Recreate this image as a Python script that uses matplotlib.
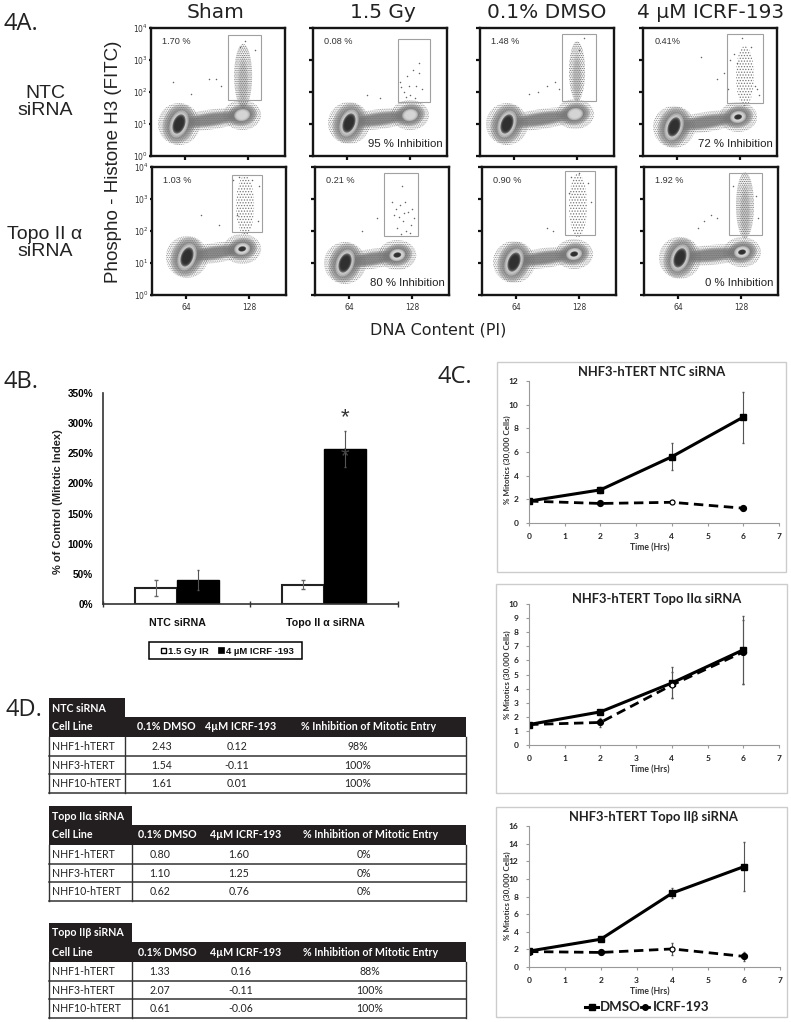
import numpy as np
import matplotlib
matplotlib.use('Agg')
import matplotlib.pyplot as plt
from matplotlib.patches import Polygon, Rectangle

W, H = 791, 1022
plt.rcParams['hatch.linewidth'] = 0.6

# ---- 4A flow panels (x = DNA content, y = log10 signal)
col_titles = ['Sham', '1.5 Gy', '0.1% DMSO', '4 µM ICRF-193']
row_titles = ['NTC\nsiRNA', 'Topo II α\nsiRNA']
flow_pct = [['1.70 %', '0.08 %', '1.48 %', '0.41%'],
            ['1.03 %', '0.21 %', '0.90 %', '1.92 %']]
flow_inhib = [['', '95 % Inhibition', '', '72 % Inhibition'],
              ['', '80 % Inhibition', '', '0 % Inhibition']]
flow_ticks_x = [64, 128]
flow_ticks_y = [0, 1, 2, 3, 4]
flow_gates = [[(107.6, 141.2, 1.75, 3.78), (115.8, 148.3, 1.69, 3.66),
               (112.7, 147.2, 1.72, 3.81), (114.8, 151.3, 1.66, 3.81)],
              [(110.7, 141.2, 1.97, 3.75), (99.5, 134.0, 1.84, 3.81),
               (113.7, 144.2, 1.88, 3.88), (115.8, 149.3, 1.88, 3.81)]]
g1_peaks = [[(57.9, 1.00), (66.0, 1.03), (56.9, 1.00), (61.0, 0.91)],
            [(65.0, 1.19), (60.0, 1.00), (62.0, 1.03), (66.0, 1.16)]]
g2_peaks = [[(122.0, 1.28), (128.0, 1.28), (126.0, 1.31), (126.0, 1.22)],
            [(121.0, 1.44), (113.0, 1.25), (123.0, 1.28), (129.0, 1.34)]]
tails = [[(123, 2.50, 9, 32), None, (128, 2.65, 8, 30), (133, 2.50, 9, 30)],
         [(124, 2.80, 9, 30), None, (127, 2.80, 9, 32), (132, 2.80, 9, 33)]]
tail_dense = [[True, False, True, False], [False, False, False, True]]
stray_dots = [
    [[(52, 2.3), (95, 2.4), (88, 2.4), (70, 1.95), (101, 2.2), (125, 3.6), (120, 3.4), (135, 3.3)],
     [(118, 2.3), (125, 2.5), (131, 2.7), (137, 2.9), (122, 2.0), (128, 1.9), (134, 2.2), (140, 2.1),
      (124, 1.85), (133, 1.8), (98, 1.8), (84, 1.9), (137, 2.6), (119, 2.15), (127, 2.2)],
     [(98, 2.2), (106, 2.3), (110, 2.1), (79, 1.95), (88, 2.0), (135, 3.7), (130, 3.3)],
     [(88, 3.1), (112, 2.6), (116, 2.1), (105, 2.4), (130, 3.7), (122, 3.2), (143, 2.2), (145, 2.1),
      (118, 3.0), (125, 2.9), (139, 3.4), (147, 1.9)]],
    [[(79, 2.5), (98, 2.2), (112, 3.6), (118, 3.7), (131, 3.6), (138, 3.4), (116, 2.5), (137, 2.3)],
     [(118, 3.4), (112, 2.7), (116, 2.8), (121, 2.9), (124, 2.6), (110, 2.5), (119, 2.3), (127, 2.2),
      (113, 2.1), (122, 2.0), (130, 2.4), (117, 1.9), (126, 1.95), (92, 2.4), (77, 2.0), (108, 2.9),
      (115, 2.45), (128, 2.7), (120, 2.55)],
     [(95, 2.1), (102, 2.0), (120, 3.7), (128, 3.8), (137, 3.5), (118, 3.2), (140, 2.9)],
     [(90, 2.3), (97, 2.5), (104, 2.4), (84, 2.1), (120, 3.4), (143, 3.1), (145, 2.4)]]]

# ---- 4B bars
bar_groups = ['NTC siRNA', 'Topo II α siRNA']
ir_vals = [26, 32]
ir_err = [13, 7]
icrf_vals = [40, 257]
icrf_err = [17, 30]
bar_ticks = [0, 50, 100, 150, 200, 250, 300, 350]

# ---- 4C time courses
times = [0, 2, 4, 6]
line_titles = ['NHF3-hTERT NTC siRNA', 'NHF3-hTERT Topo IIα siRNA', 'NHF3-hTERT Topo IIβ siRNA']
dmso_1 = [1.85, 2.8, 5.6, 8.95]
dmso_1_err = [0.1, 0.25, 1.15, 2.15]
icrf_1 = [1.85, 1.65, 1.75, 1.25]
icrf_1_err = [0.1, 0.1, 0.1, 0.1]
dmso_2 = [1.45, 2.35, 4.4, 6.75]
dmso_2_err = [0.1, 0.15, 1.1, 2.4]
icrf_2 = [1.45, 1.6, 4.25, 6.6]
icrf_2_err = [0.1, 0.3, 0.9, 2.3]
dmso_3 = [1.8, 3.15, 8.4, 11.4]
dmso_3_err = [0.1, 0.2, 0.55, 2.8]
icrf_3 = [1.75, 1.65, 2.05, 1.2]
icrf_3_err = [0.1, 0.1, 0.7, 0.5]

# ---- 4D tables
table_head = ['Cell Line', '0.1% DMSO', '4µM ICRF-193', '% Inhibition of Mitotic Entry']
cell_lines = ['NHF1-hTERT', 'NHF3-hTERT', 'NHF10-hTERT']
table_names = ['NTC siRNA', 'Topo IIα siRNA', 'Topo IIβ siRNA']
table_dmso = [['2.43', '1.54', '1.61'], ['0.80', '1.10', '0.62'], ['1.33', '2.07', '0.61']]
table_icrf = [['0.12', '-0.11', '0.01'], ['1.60', '1.25', '0.76'], ['0.16', '-0.11', '-0.06']]
table_inhib = [['98%', '100%', '100%'], ['0%', '0%', '0%'], ['88%', '100%', '100%']]


def axes_px(x0, y0, x1, y1):
    return fig.add_axes([x0 / W, 1 - y1 / H, (x1 - x0) / W, (y1 - y0) / H])


def blob(ax, centre, rx, ry, angle, **kw):
    # ellipse given in pixels, turned into data units of the flow panel
    t = np.linspace(0, 2 * np.pi, 60)
    a = np.radians(angle)
    px = rx * np.cos(t) * np.cos(a) - ry * np.sin(t) * np.sin(a)
    py = rx * np.cos(t) * np.sin(a) + ry * np.sin(t) * np.cos(a)
    pts = np.column_stack([centre[0] + px * 1.015, centre[1] + py / 32])
    ax.add_patch(Polygon(pts, closed=True, lw=0, **kw))


def soft(ax, centre, rx, ry, angle, color, alpha=0.4):
    # a few shrinking copies so the edge fades
    for f in [1.0, 0.88, 0.76, 0.64]:
        blob(ax, centre, rx * f, ry * f, angle, facecolor=color, alpha=alpha)


def draw_flow(ax, r, c):
    g1, g2 = g1_peaks[r][c], g2_peaks[r][c]
    mid = ((g1[0] + g2[0]) / 2, (g1[1] + g2[1]) / 2)
    ang = np.degrees(np.arctan2((g2[1] - g1[1]) * 32, (g2[0] - g1[0]) / 1.015))
    half = np.hypot((g2[0] - g1[0]) / 1.015, (g2[1] - g1[1]) * 32) / 2

    # stippled outer cloud
    stip = dict(facecolor='none', edgecolor='#8c8c8c', hatch='.........')
    blob(ax, g1, 21, 21, 0, **stip)
    blob(ax, g2, 19, 15, 0, **stip)
    blob(ax, mid, half + 10, 10, ang, **stip)
    if tails[r][c] is not None:
        cx, cy, rx, ry = tails[r][c]
        if tail_dense[r][c]:
            blob(ax, (cx, cy), rx, ry, 0, facecolor='none', edgecolor='#666666', hatch='.........')
            soft(ax, (cx, cy - 0.2), rx * 0.6, ry * 0.85, 0, '#888888', alpha=0.12)
        else:
            blob(ax, (cx, cy), rx, ry, 0, facecolor='none', edgecolor='#777777', hatch='......')

    # denser body
    soft(ax, mid, half + 2, 7, ang, '#707070', alpha=0.32)
    soft(ax, g1, 16, 20, -20, '#777777', alpha=0.38)
    soft(ax, g2, 15, 11, 10, '#777777', alpha=0.38)
    soft(ax, g1, 9, 14, -20, '#dcdcdc', alpha=0.45)
    soft(ax, g2, 8, 6, 10, '#dedede', alpha=0.45)
    soft(ax, g1, 6, 10, -20, '#2c2c2c', alpha=0.6)
    if r == 1 or c == 3:
        soft(ax, g2, 4, 2.6, 10, '#2c2c2c', alpha=0.6)

    x0, x1, y0, y1 = flow_gates[r][c]
    ax.add_patch(Rectangle((x0, y0), x1 - x0, y1 - y0, fill=False, ec='#a0a0a0', lw=0.8, zorder=3))
    ax.scatter(*zip(*stray_dots[r][c]), s=1.2, color='#666666', lw=0, zorder=2)


def draw_lines(ax, dmso, dmso_err, icrf, icrf_err, ymax, ystep):
    ax.errorbar(times, dmso, yerr=dmso_err, color='#555555', lw=0, elinewidth=0.8, capsize=1)
    ax.errorbar(times, icrf, yerr=icrf_err, color='#555555', lw=0, elinewidth=0.8, capsize=1)
    ax.plot(times, dmso, '-', color='black', lw=2.2, marker='s', ms=4.5)
    ax.plot(times, icrf, color='black', lw=2.0, ls=(0, (3.4, 2)), marker='o', ms=4.2,
            markevery=[0, 1, 3])
    ax.plot(times, icrf, lw=0, marker='o', ms=3.6, mfc='white', mec='black', mew=0.9, markevery=[2])
    ax.set_xlim(0, 7)
    ax.set_ylim(0, ymax)
    ax.set_xticks(range(8))
    ax.set_yticks(range(0, ymax + 1, ystep))
    for s in ['top', 'right']:
        ax.spines[s].set_visible(False)
    for s in ['left', 'bottom']:
        ax.spines[s].set_color('#999999')
    ax.tick_params(colors='#999999', labelcolor='#222222', labelsize=6, length=2.5, width=0.8, pad=5)
    for lab in ax.get_xticklabels() + ax.get_yticklabels():
        lab.set_fontweight('bold')
        lab.set_family(['Lato', 'DejaVu Sans'])
    ax.patch.set_alpha(0)


fig = plt.figure(figsize=(W / 100, H / 100), dpi=100)
bg = fig.add_axes([0, 0, 1, 1])
bg.set_xlim(0, W)
bg.set_ylim(H, 0)
bg.axis('off')

# panel letters
for txt, x, y in [('4A.', 3, 24), ('4B.', 3, 382), ('4C.', 437, 377), ('4D.', 6, 710)]:
    bg.text(x, y, txt, fontsize=17, family='Open Sans', va='center', color='#222222')

# ---- 4A
lefts = [[151, 313, 480, 643], [152, 315, 482, 644]]
tops = [28, 167]
for r in range(2):
    for c in range(4):
        x0 = lefts[r][c]
        ax = axes_px(x0, tops[r], x0 + 134, tops[r] + 128)
        ax.set_xlim(29.5, 165.5)
        ax.set_ylim(0, 4)
        draw_flow(ax, r, c)
        ax.set_xticks(flow_ticks_x)
        ax.set_yticks(flow_ticks_y)
        ax.tick_params(length=3, width=1.6, pad=3, labelsize=5.5, color='#111111', labelcolor='#333333')
        if r == 0:
            ax.set_xticklabels([])
        if c == 0:
            ax.set_yticklabels(['$\\mathregular{10^{%d}}$' % v for v in flow_ticks_y])
            ax.tick_params(axis='y', length=1.5, labelsize=5.5, pad=1)
        else:
            ax.set_yticklabels([])
        for s in ax.spines.values():
            s.set_linewidth(1.7)
            s.set_color('#151515')
        ax.text(0.085, 0.895, flow_pct[r][c], transform=ax.transAxes, fontsize=6.6,
                family='Liberation Sans', color='#333333', va='center')
        if flow_inhib[r][c]:
            ax.text(0.965, 0.09, flow_inhib[r][c], transform=ax.transAxes, fontsize=8.2, ha='right',
                    family='Liberation Sans', color='#222222', va='center')

for txt, x in zip(col_titles, [216, 383, 547, 711]):
    bg.text(x, 13, txt, ha='center', va='center', fontsize=14.5, color='#222222')
for txt, y in zip(row_titles, [102, 243]):
    bg.text(45, y, txt, ha='center', va='center', fontsize=14, color='#222222',
            family='Liberation Sans', linespacing=1.05)
bg.text(114, 162, 'Phospho - Histone H3 (FITC)', rotation=90, ha='center', va='center',
        fontsize=13.5, family='Liberation Sans', color='#222222')
bg.text(438, 330, 'DNA Content (PI)', ha='center', va='center', fontsize=11.5, color='#222222')

# ---- 4B
ax = axes_px(103, 393, 398, 604)
ax.set_xlim(0, 2)
ax.set_ylim(0, 350)
xpos = np.array([0.5, 1.5])
bw = 0.285
ax.bar(xpos - bw / 2, ir_vals, bw, color='white', edgecolor='#222222', lw=1.5,
       yerr=ir_err, error_kw=dict(ecolor='#666666', elinewidth=0.8, capsize=1.5))
ax.bar(xpos + bw / 2, icrf_vals, bw, color='black', edgecolor='black', lw=1,
       yerr=icrf_err, error_kw=dict(ecolor='#555555', elinewidth=0.8, capsize=1))
ax.set_xticks([0, 1, 2])
ax.set_xticklabels([])
ax.set_yticks(bar_ticks)
ax.set_yticklabels(['%d%%' % v for v in bar_ticks], fontsize=7.2, fontweight='bold',
                   family='Liberation Sans')
ax.tick_params(axis='y', length=0, pad=7)
ax.tick_params(axis='x', direction='inout', length=5, width=1, color='#333333')
for s in ['top', 'right']:
    ax.spines[s].set_visible(False)
for s in ['left', 'bottom']:
    ax.spines[s].set_linewidth(1.2)
    ax.spines[s].set_color('#333333')
ax.patch.set_alpha(0)
for txt, x in zip(bar_groups, [177, 325]):
    bg.text(x, 623, txt, ha='center', va='center', fontsize=7.7, fontweight='bold',
            family='Liberation Sans', color='#111111')
bg.text(58, 502, '% of Control (Mitotic Index)', rotation=90, ha='center', va='center', fontsize=8,
        fontweight='bold', family='Liberation Sans', color='#222222')
bg.text(345, 418, '*', ha='center', va='center', fontsize=16, family='Liberation Sans', color='#333333')
fig.text(345 / W, 1 - 457 / H, '*', ha='center', va='center', fontsize=16, family='Liberation Sans',
         color='#444444')
bg.add_patch(Rectangle((149, 642), 153, 17, fc='white', ec='black', lw=1.1))
bg.add_patch(Rectangle((161, 648), 5, 5, fc='white', ec='black', lw=1))
bg.add_patch(Rectangle((218, 647.5), 6, 6, fc='black', ec='black', lw=0.5))
bg.text(168, 651, '1.5 Gy IR', va='center', fontsize=6.8, fontweight='bold', family='Liberation Sans',
        color='#111111')
bg.text(226, 651, '4 µM ICRF -193', va='center', fontsize=6.8, fontweight='bold', family='Liberation Sans',
        color='#111111')

# ---- 4C
boxes = [(497, 362, 786, 572), (496, 584, 787, 793), (496, 807, 787, 1017)]
line_axes = [(529, 381, 779, 523), (529, 604, 779, 745), (529, 826, 780, 967)]
line_data = [(dmso_1, dmso_1_err, icrf_1, icrf_1_err, 12, 2),
             (dmso_2, dmso_2_err, icrf_2, icrf_2_err, 10, 1),
             (dmso_3, dmso_3_err, icrf_3, icrf_3_err, 16, 2)]
title_x = [652, 657, 653]
title_y = [372, 599, 817]
ylab_y = [460, 675, 896]
for i in range(3):
    x0, y0, x1, y1 = boxes[i]
    bg.add_patch(Rectangle((x0, y0), x1 - x0, y1 - y0, fc='white', ec='#cccccc', lw=1))
    a = line_axes[i]
    ax = axes_px(*a)
    draw_lines(ax, *line_data[i])
    bg.text(title_x[i], title_y[i], line_titles[i], ha='center', va='center', fontsize=9.4,
            fontweight='bold', family=['Lato', 'DejaVu Sans'], color='#222222')
    bg.text(650, a[3] + 25, 'Time (Hrs)', ha='center', va='center', fontsize=6.2, fontweight='bold',
            family='Lato', color='#333333')
    bg.text(507, ylab_y[i], '% Mitotics (30,000 Cells)', rotation=90, ha='center', va='center',
            fontsize=5.8, fontweight='bold', family='Lato', color='#333333')

bg.plot([585, 598], [1007, 1007], color='black', lw=2.2)
bg.plot([591.5], [1007], color='black', marker='s', ms=5)
bg.text(600, 1007, 'DMSO', va='center', fontsize=9.5, fontweight='bold', family='Lato', color='#222222')
bg.plot([641, 649], [1007, 1007], color='black', lw=2.0)
bg.plot([645], [1007], color='black', marker='o', ms=4)
bg.text(653, 1007, 'ICRF-193', va='center', fontsize=9.5, fontweight='bold', family='Lato', color='#222222')

# ---- 4D
tab_tops = [698, 806, 923]
tab_rights = [125, 132, 132]
head_x = [[166, 241, 369], [167, 246, 371], [167, 246, 371]]
val_x = [[162, 237, 358], [160, 239, 364], [160, 241, 370]]
hfont = dict(family=['Lato', 'DejaVu Sans'], va='center', fontsize=7.7, color='white', fontweight='bold')
tfont = dict(family=['Lato', 'DejaVu Sans'], va='center', fontsize=7.6, color='#222222')
for t in range(3):
    top, right = tab_tops[t], tab_rights[t]
    bg.add_patch(Rectangle((49, top), right - 49, 19.5, fc='#231f20', ec='none'))
    bg.add_patch(Rectangle((49, top + 19), 466 - 49, 20, fc='#231f20', ec='none'))
    bg.text(52, top + 10, table_names[t], **hfont)
    bg.text(52, top + 29, table_head[0], **hfont)
    for j in range(3):
        bg.text(head_x[t][j], top + 29, table_head[j + 1], ha='center', **hfont)
    row_top = top + 39
    for k in range(3):
        y = row_top + 18.7 * k
        bg.plot([49, 466], [y + 18.7, y + 18.7], color='#333333', lw=1.1)
        bg.text(52, y + 9.5, cell_lines[k], **tfont)
        for j, vals in enumerate([table_dmso, table_icrf, table_inhib]):
            bg.text(val_x[t][j], y + 9.5, vals[t][k], ha='center', **tfont)
    bg.plot([49, 49], [row_top, row_top + 56], color='#333333', lw=1)
    bg.plot([466, 466], [row_top, row_top + 56], color='#333333', lw=1)
    bg.plot([right, right], [row_top, row_top + 56], color='#333333', lw=1)

fig.savefig('out.png', dpi=100)
